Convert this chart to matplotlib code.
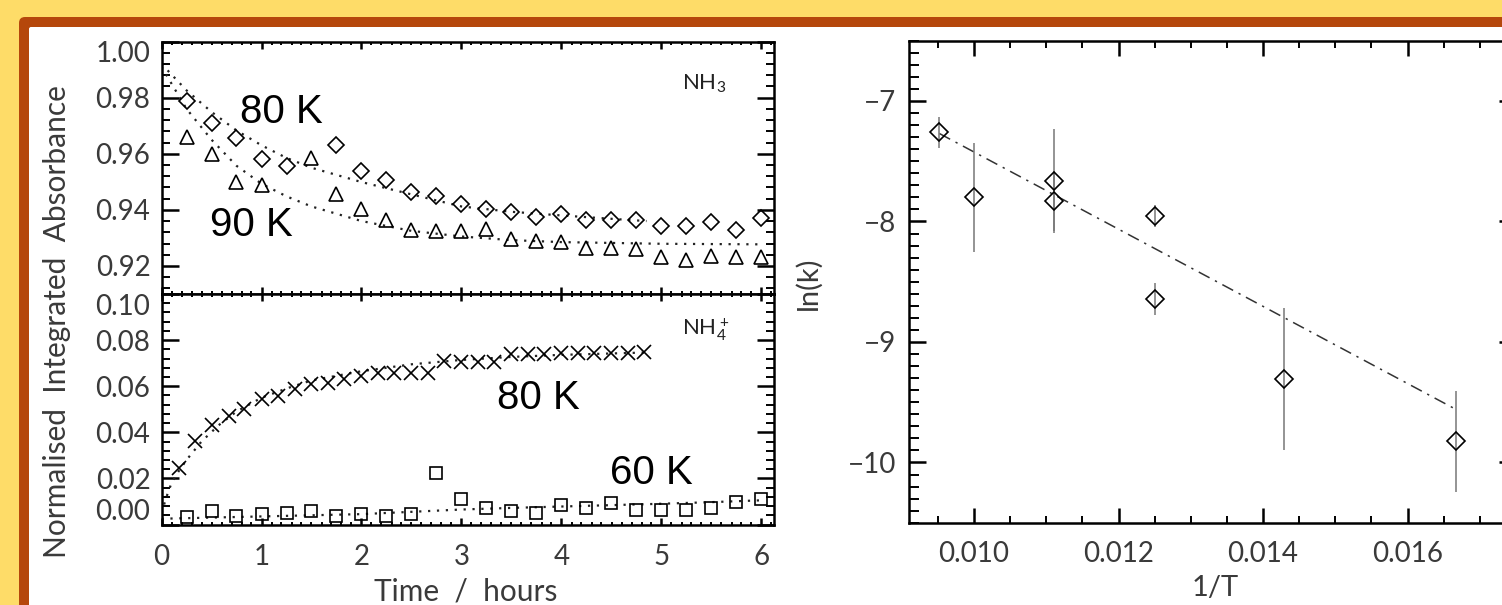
import matplotlib
matplotlib.use("Agg")
import matplotlib.pyplot as plt
from matplotlib.patches import FancyBboxPatch
from matplotlib.transforms import IdentityTransform
from matplotlib.ticker import MultipleLocator

plt.rcParams['font.family'] = ['Lato', 'DejaVu Sans']
plt.rcParams['font.weight'] = 'normal'
plt.rcParams['mathtext.default'] = 'regular'

# ---- NH3 band, normalised absorbance (top left) ----
t_nh3_80 = [0.25, 0.5, 0.75, 1.0, 1.25, 1.75, 2.0, 2.25, 2.5, 2.75, 3.0, 3.25,
            3.5, 3.75, 4.0, 4.25, 4.5, 4.75, 5.0, 5.25, 5.5, 5.75, 6.0]
a_nh3_80 = [0.9787, 0.9709, 0.9657, 0.9580, 0.9558, 0.9632, 0.9540, 0.9505,
            0.9463, 0.9449, 0.9421, 0.9404, 0.9391, 0.9376, 0.9386, 0.9362,
            0.9364, 0.9364, 0.9341, 0.9343, 0.9355, 0.9329, 0.9371]
t_nh3_90 = [0.25, 0.5, 0.75, 1.0, 1.5, 1.75, 2.0, 2.25, 2.5, 2.75, 3.0, 3.25,
            3.5, 3.75, 4.0, 4.25, 4.5, 4.75, 5.0, 5.25, 5.5, 5.75, 6.0]
a_nh3_90 = [0.9659, 0.9600, 0.9499, 0.9490, 0.9586, 0.9457, 0.9404, 0.9365,
            0.9329, 0.9326, 0.9326, 0.9332, 0.9296, 0.9290, 0.9284, 0.9264,
            0.9264, 0.9261, 0.9231, 0.9221, 0.9237, 0.9231, 0.9233]
fit_nh3_80_t = [0.0, 0.25, 0.5, 0.75, 1.0, 1.25, 1.5, 2.0, 2.5, 3.0, 3.5, 4.0, 4.5, 4.85]
fit_nh3_80_a = [0.992, 0.9826, 0.9749, 0.9683, 0.9630, 0.9585, 0.9550, 0.9499,
                0.9455, 0.9412, 0.9393, 0.9380, 0.9368, 0.9360]
fit_nh3_90_t = [0.0, 0.25, 0.5, 0.75, 1.0, 1.25, 1.5, 2.0, 2.5, 3.0, 3.5, 4.0, 5.0, 6.0]
fit_nh3_90_a = [0.991, 0.9760, 0.9650, 0.9557, 0.9493, 0.9448, 0.9412, 0.9360,
                0.9325, 0.9305, 0.9292, 0.9285, 0.9279, 0.9277]

# ---- NH4+ band (bottom left) ----
t_nh4_80 = [0.17, 0.33, 0.5, 0.67, 0.83, 1.0, 1.17, 1.33, 1.5, 1.67, 1.83, 2.0,
            2.17, 2.33, 2.5, 2.67, 2.83, 3.0, 3.17, 3.33, 3.5, 3.67, 3.83, 4.0,
            4.17, 4.33, 4.5, 4.67, 4.83]
a_nh4_80 = [0.0246, 0.0362, 0.0430, 0.0471, 0.0500, 0.0546, 0.0558, 0.0587,
            0.0609, 0.0616, 0.0633, 0.0645, 0.0657, 0.0659, 0.0659, 0.0659,
            0.0710, 0.0703, 0.0703, 0.0703, 0.0739, 0.0739, 0.0739, 0.0743,
            0.0743, 0.0743, 0.0745, 0.0745, 0.0749]
fit_nh4_80_t = [0.0, 0.05, 0.1, 0.17, 0.25, 0.4, 0.57, 0.75, 1.0, 1.25, 1.5,
                2.0, 2.5, 3.0, 3.5, 4.0, 4.5, 4.83]
fit_nh4_80_a = [0.005, 0.012, 0.018, 0.023, 0.028, 0.036, 0.043, 0.049, 0.055,
                0.059, 0.0625, 0.0665, 0.0695, 0.0714, 0.0727, 0.0736, 0.0742, 0.0746]
t_nh4_60 = [0.25, 0.5, 0.75, 1.0, 1.25, 1.5, 1.75, 2.0, 2.25, 2.5, 2.75, 3.0,
            3.25, 3.5, 3.75, 4.0, 4.25, 4.5, 4.75, 5.0, 5.25, 5.5, 5.75, 6.0]
a_nh4_60 = [0.0033, 0.0058, 0.0039, 0.0046, 0.0051, 0.0058, 0.0039, 0.0046,
            0.0036, 0.0046, 0.0225, 0.0112, 0.0072, 0.0058, 0.0048, 0.0083,
            0.0072, 0.0094, 0.0065, 0.0065, 0.0065, 0.0072, 0.0097, 0.0112]
fit_nh4_60_t = [0.0, 0.5, 1.0, 1.5, 2.0, 2.5, 3.0, 3.5, 4.0, 4.5, 5.0, 5.5, 6.0]
fit_nh4_60_a = [0.0025, 0.0030, 0.0035, 0.0040, 0.0045, 0.0055, 0.0065, 0.0072,
                0.0078, 0.0084, 0.0090, 0.0097, 0.0105]

# ---- Arrhenius plot (right) ----
inv_T = [0.00952, 0.0100, 0.01111, 0.01111, 0.0125, 0.0125, 0.01429, 0.01667]
ln_k = [-7.26, -7.80, -7.665, -7.83, -7.953, -8.643, -9.306, -9.825]
ln_k_err = [0.13, 0.45, 0.43, 0.25, 0.09, 0.13, 0.59, 0.42]
fit_inv_T = [0.00952, 0.01667]
fit_ln_k = [-7.27, -9.56]

W, H = 1502, 605
yellow = '#FEDC68'
brown = '#B5470B'
tick_col = '#3a3a3a'

fig = plt.figure(figsize=(W / 100, H / 100), dpi=100)
fig.patch.set_facecolor(yellow)

# slide frame (pixel coordinates, origin bottom-left)
frame = FancyBboxPatch((19, -60), 2000, H - 17 + 60, boxstyle="round,pad=0,rounding_size=6",
                       fc=brown, ec='none', transform=IdentityTransform(), zorder=-10)
inner = FancyBboxPatch((29, -60), 2000, H - 27 + 60, boxstyle="round,pad=0,rounding_size=2",
                       fc='white', ec='none', transform=IdentityTransform(), zorder=-9)
fig.add_artist(frame)
fig.add_artist(inner)


def px_axes(x0, y0, x1, y1):
    return fig.add_axes([x0 / W, 1 - y1 / H, (x1 - x0) / W, (y1 - y0) / H])


def style(ax, xlen, ylen):
    for s in ax.spines.values():
        s.set_linewidth(1.8)
    ax.tick_params(which='both', direction='in', top=True, right=True,
                   labelsize=20, labelcolor=tick_col)
    ax.tick_params(axis='x', which='major', length=xlen[0], width=1.8, pad=14)
    ax.tick_params(axis='x', which='minor', length=xlen[1], width=1.4)
    ax.tick_params(axis='y', which='major', length=ylen[0], width=1.8, pad=8)
    ax.tick_params(axis='y', which='minor', length=ylen[1], width=1.4)


dot = (0, (1, 3))
mk = dict(ls='none', mfc='none', mec='black', mew=1.2)

ax1 = px_axes(161.5, 41.5, 774, 294)
ax2 = px_axes(161.5, 294, 774, 524.5)
ax3 = px_axes(909, 40.7, 1516, 522.7)

# top left: NH3
ax1.plot(fit_nh3_80_t, fit_nh3_80_a, color='#222222', lw=1.6, ls=dot)
ax1.plot(fit_nh3_90_t, fit_nh3_90_a, color='#222222', lw=1.6, ls=dot)
ax1.plot(t_nh3_80, a_nh3_80, marker='D', ms=8.5, **mk)
ax1.plot(t_nh3_90, a_nh3_90, marker='^', ms=10, **mk)
ax1.set_xlim(0, 6.125)
ax1.set_ylim(0.91, 1.0)
ax1.set_yticks([0.92, 0.94, 0.96, 0.98, 1.00], ['0.92', '0.94', '0.96', '0.98', '1.00'])
ax1.xaxis.set_major_locator(MultipleLocator(1))
ax1.xaxis.set_minor_locator(MultipleLocator(0.1))
ax1.yaxis.set_minor_locator(MultipleLocator(0.004))
style(ax1, (5, 2.5), (12.5, 5.5))
ax1.tick_params(labelbottom=False)
ax1.yaxis.get_major_ticks()[-1].label1.set_va('top')
ax1.text(0.78, 0.9709, '80 K', family='Liberation Sans', fontsize=29, ha='left', va='baseline')
ax1.text(0.48, 0.9308, '90 K', family='Liberation Sans', fontsize=29, ha='left', va='baseline')
ax1.text(5.21, 0.9829, 'NH$_3$', fontsize=16, ha='left', va='baseline', color='#222222')

# bottom left: NH4+
ax2.plot(fit_nh4_80_t, fit_nh4_80_a, color='#222222', lw=1.6, ls=dot)
ax2.plot(fit_nh4_60_t, fit_nh4_60_a, color='#222222', lw=1.6, ls=dot)
ax2.plot(t_nh4_80, a_nh4_80, marker='x', ms=10, **mk)
ax2.plot(t_nh4_60, a_nh4_60, marker='s', ms=8.5, **mk)
ax2.set_xlim(0, 6.125)
ax2.set_ylim(0.0, 0.10)
ax2.set_yticks([0.0, 0.02, 0.04, 0.06, 0.08, 0.10],
               ['0.00', '0.02', '0.04', '0.06', '0.08', '0.10'])
ax2.set_xticks([0, 1, 2, 3, 4, 5, 6], ['0', '1', '2', '3', '4', '5', '6'])
ax2.xaxis.set_minor_locator(MultipleLocator(0.1))
ax2.yaxis.set_minor_locator(MultipleLocator(0.004))
style(ax2, (5, 2.5), (12.5, 5.5))
ax2.yaxis.get_major_ticks()[0].label1.set_va('bottom')
ax2.yaxis.get_major_ticks()[-1].label1.set_va('top')
ax2.text(3.36, 0.050, '80 K', family='Liberation Sans', fontsize=29, ha='left', va='baseline')
ax2.text(4.48, 0.0174, '60 K', family='Liberation Sans', fontsize=29, ha='left', va='baseline')
ax2.text(5.21, 0.0819, 'NH$_4^+$', fontsize=16, ha='left', va='baseline', color='#222222')

fig.text(57 / W, 1 - 322 / H, 'Normalised  Integrated  Absorbance', rotation=90,
         ha='center', va='center', fontsize=21.5, color=tick_col)
fig.text(466 / W, 1 - 591 / H, 'Time  /  hours', ha='center', va='center',
         fontsize=21.5, color=tick_col)

# right: ln(k) vs 1/T
ax3.plot(fit_inv_T, fit_ln_k, color='#333333', lw=1.1, ls=(0, (8, 4, 1.5, 4)))
ax3.errorbar(inv_T, ln_k, yerr=ln_k_err, fmt='none', ecolor='#777777', elinewidth=1.1, capsize=0)
ax3.plot(inv_T, ln_k, marker='D', ms=9, **mk)
ax3.set_xlim(0.0091, 0.0175)
ax3.set_ylim(-10.5, -6.5)
ax3.set_xticks([0.010, 0.012, 0.014, 0.016], ['0.010', '0.012', '0.014', '0.016'])
ax3.set_yticks([-10, -9, -8, -7], ['\u221210', '\u22129', '\u22128', '\u22127'])
ax3.xaxis.set_minor_locator(MultipleLocator(0.0005))
ax3.yaxis.set_minor_locator(MultipleLocator(0.1))
style(ax3, (10.8, 4.8), (12.4, 7.5))
ax3.tick_params(axis='x', which='major', pad=13)
ax3.tick_params(axis='y', which='major', pad=9)

fig.text(808 / W, 1 - 283 / H, 'ln(k)', rotation=90, ha='center', va='center',
         fontsize=21, color=tick_col)
fig.text(1215 / W, 1 - 588 / H, '1/T', ha='center', va='center', fontsize=21, color=tick_col)

fig.savefig('out.png', dpi=100, facecolor=yellow)
